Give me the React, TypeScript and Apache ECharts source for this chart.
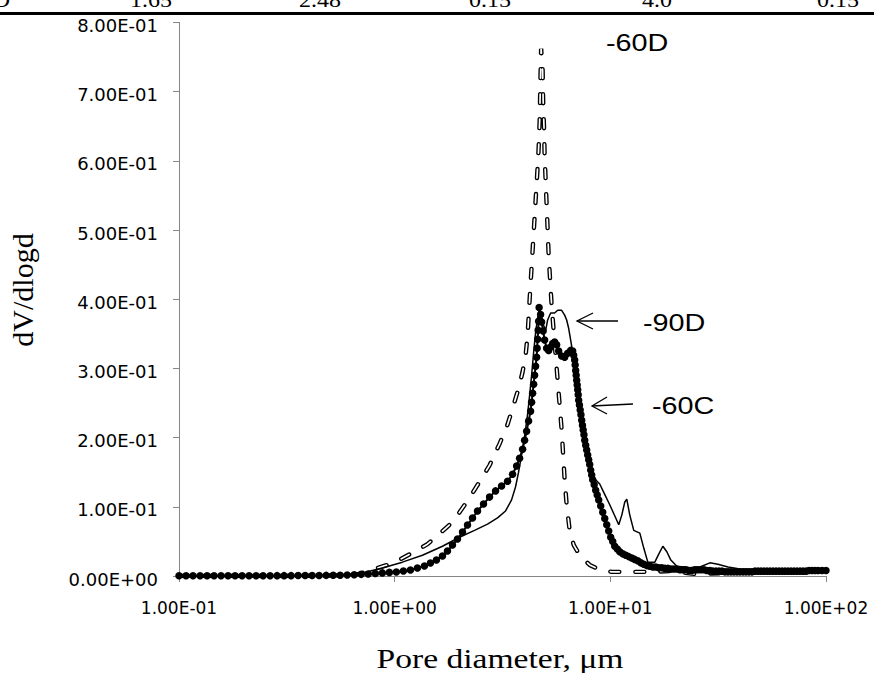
import React, { useEffect, useRef } from "react";
import * as echarts from "echarts";

// ---- data (pore diameter [µm], dV/dlogd) ----
const xTicks = [0.1, 1, 10, 100];
const yTicks = [0, 0.1, 0.2, 0.3, 0.4, 0.5, 0.6, 0.7, 0.8];

const series60D: number[][] = [
  [0.1, 0], [0.2114, 0], [0.3609, 0], [0.5535, 0.001], [0.6855, 0.003], [0.8049, 0.01], [0.9449, 0.017],
  [1.074, 0.025], [1.234, 0.035], [1.419, 0.046], [1.613, 0.061], [1.795, 0.074], [1.998, 0.092],
  [2.223, 0.113], [2.474, 0.136], [2.754, 0.16], [3.064, 0.191], [3.338, 0.219], [3.56, 0.247],
  [3.754, 0.271], [3.919, 0.295], [4.047, 0.319], [4.135, 0.348], [4.224, 0.399], [4.292, 0.435],
  [4.362, 0.471], [4.433, 0.507], [4.503, 0.543], [4.577, 0.579], [4.651, 0.618], [4.7, 0.656],
  [4.725, 0.692], [4.75, 0.728], [4.776, 0.762], [4.853, 0.731], [4.88, 0.687], [4.931, 0.644],
  [4.958, 0.608], [5.012, 0.572], [5.066, 0.536], [5.121, 0.5], [5.176, 0.464], [5.259, 0.427],
  [5.344, 0.391], [5.458, 0.355], [5.577, 0.319], [5.697, 0.283], [5.821, 0.247], [5.947, 0.211],
  [6.043, 0.175], [6.141, 0.139], [6.273, 0.103], [6.478, 0.066], [6.761, 0.045], [7.21, 0.03],
  [8.022, 0.016], [8.93, 0.009], [10.15, 0.006], [12.31, 0.006], [15.24, 0.006], [18.87, 0.007],
  [24.66, 0.003], [32.23, 0.004], [49.43, 0.006], [75.82, 0.007], [100, 0.007],
];

const series90D: number[][] = [
  [0.1, 0], [0.2114, 0], [0.3609, 0], [0.5535, 0.0015], [0.7003, 0.004], [0.8768, 0.0116], [1.086, 0.02],
  [1.345, 0.03], [1.666, 0.043], [1.998, 0.056], [2.346, 0.066], [2.695, 0.075], [2.999, 0.084],
  [3.267, 0.094], [3.484, 0.11], [3.636, 0.129], [3.754, 0.15], [3.877, 0.175], [4.004, 0.202],
  [4.135, 0.234], [4.224, 0.261], [4.315, 0.29], [4.409, 0.323], [4.503, 0.352], [4.601, 0.373],
  [4.7, 0.381], [4.801, 0.375], [4.907, 0.362], [5.012, 0.355], [5.121, 0.37], [5.287, 0.38],
  [5.518, 0.38], [5.697, 0.384], [5.947, 0.384], [6.141, 0.377], [6.273, 0.37], [6.409, 0.358],
  [6.548, 0.341], [6.69, 0.323], [6.907, 0.297], [7.134, 0.261], [7.367, 0.228], [7.607, 0.199],
  [7.852, 0.173], [8.109, 0.153], [8.374, 0.142], [8.93, 0.133], [9.419, 0.118], [9.936, 0.103],
  [10.48, 0.087], [10.94, 0.074], [11.3, 0.088], [11.67, 0.107], [11.92, 0.111], [12.31, 0.088],
  [12.84, 0.066], [13.7, 0.062], [14.3, 0.04], [14.92, 0.02], [16.08, 0.02], [16.79, 0.032],
  [17.52, 0.043], [18.28, 0.035], [19.08, 0.023], [20.34, 0.014], [23.38, 0.012], [26.02, 0.013],
  [28.95, 0.019], [31.54, 0.017], [35.1, 0.013], [39.91, 0.01], [49.43, 0.009], [68.09, 0.009], [100, 0.009],
];

const series60C: number[][] = [
  [0.1, 0.0003], [0.1078, 0.0003], [0.1161, 0.0003], [0.1252, 0.0003], [0.1349, 0.0003], [0.1454, 0.0003],
  [0.1567, 0.0003], [0.1688, 0.0003], [0.1819, 0.0003], [0.1961, 0.0003], [0.2113, 0.0004], [0.2277, 0.0004],
  [0.2454, 0.0004], [0.2645, 0.0004], [0.285, 0.0005], [0.3072, 0.0005], [0.331, 0.0005], [0.3568, 0.0006],
  [0.3845, 0.0006], [0.4143, 0.0007], [0.4465, 0.0008], [0.4812, 0.0009], [0.5186, 0.001], [0.5589, 0.0012],
  [0.6023, 0.0015], [0.6491, 0.0019], [0.6995, 0.0024], [0.7539, 0.003], [0.8137, 0.0037], [0.8768, 0.0045],
  [0.9449, 0.0052], [1.018, 0.0058], [1.098, 0.0072], [1.183, 0.0087], [1.275, 0.0116], [1.374, 0.0144],
  [1.465, 0.0188], [1.562, 0.0231], [1.666, 0.0289], [1.757, 0.0361], [1.854, 0.0448], [1.956, 0.0534],
  [2.063, 0.0635], [2.176, 0.0736], [2.296, 0.0838], [2.422, 0.0939], [2.582, 0.104], [2.754, 0.114],
  [2.936, 0.123], [3.131, 0.13], [3.338, 0.137], [3.521, 0.147], [3.676, 0.159], [3.795, 0.17],
  [3.919, 0.183], [4.004, 0.196], [4.091, 0.209], [4.178, 0.224], [4.269, 0.238], [4.315, 0.251],
  [4.362, 0.264], [4.409, 0.277], [4.456, 0.29], [4.503, 0.303], [4.553, 0.316], [4.577, 0.329],
  [4.601, 0.342], [4.626, 0.355], [4.651, 0.368], [4.675, 0.388], [4.75, 0.378], [4.801, 0.367],
  [4.88, 0.354], [4.958, 0.341], [5.066, 0.329], [5.176, 0.326], [5.287, 0.331], [5.403, 0.336],
  [5.518, 0.338], [5.638, 0.334], [5.76, 0.325], [5.947, 0.318], [6.141, 0.316], [6.341, 0.322],
  [6.548, 0.326], [6.69, 0.325], [6.762, 0.319], [6.834, 0.312], [6.87, 0.305], [6.907, 0.297],
  [6.944, 0.29], [6.982, 0.283], [7.02, 0.276], [7.058, 0.269], [7.096, 0.262], [7.134, 0.254],
  [7.192, 0.247], [7.25, 0.24], [7.308, 0.233], [7.367, 0.225], [7.426, 0.218], [7.485, 0.211],
  [7.546, 0.204], [7.607, 0.196], [7.688, 0.189], [7.77, 0.182], [7.853, 0.175], [7.937, 0.168],
  [8.023, 0.161], [8.109, 0.153], [8.196, 0.146], [8.284, 0.139], [8.417, 0.132], [8.553, 0.124],
  [8.692, 0.117], [8.834, 0.11], [9.025, 0.101], [9.22, 0.092], [9.42, 0.083], [9.623, 0.074],
  [9.829, 0.065], [10.04, 0.056], [10.26, 0.05], [10.48, 0.043], [10.77, 0.039], [11.06, 0.035],
  [11.42, 0.032], [11.79, 0.03], [12.17, 0.028], [12.57, 0.026], [12.98, 0.024], [13.41, 0.022],
  [13.85, 0.019], [14.3, 0.017], [14.76, 0.015], [15.24, 0.014], [15.74, 0.013], [16.25, 0.013],
  [16.78, 0.012], [17.33, 0.012], [17.9, 0.011], [18.48, 0.011], [19.08, 0.01], [19.7, 0.01],
  [20.34, 0.01], [21.01, 0.009], [21.69, 0.009], [22.4, 0.009], [23.13, 0.008], [23.88, 0.008],
  [24.66, 0.009], [25.47, 0.009], [26.3, 0.009], [27.16, 0.009], [28.04, 0.008], [28.95, 0.008],
  [29.89, 0.007], [30.87, 0.007], [31.88, 0.007], [32.92, 0.007], [33.99, 0.006], [35.1, 0.006],
  [36.25, 0.006], [37.43, 0.006], [38.65, 0.006], [39.91, 0.006], [41.21, 0.006], [42.56, 0.006],
  [43.95, 0.006], [45.38, 0.006], [46.85, 0.007], [48.37, 0.007], [49.95, 0.007], [51.58, 0.007],
  [53.26, 0.007], [55.0, 0.007], [56.8, 0.007], [58.65, 0.007], [60.56, 0.007], [62.54, 0.007],
  [64.58, 0.007], [66.69, 0.007], [68.86, 0.007], [71.1, 0.007], [73.42, 0.007], [75.82, 0.007],
  [78.3, 0.007], [80.85, 0.007], [83.48, 0.008], [86.2, 0.008], [89.0, 0.008], [91.9, 0.008],
  [95.87, 0.008], [100, 0.008],
];

const seriesNames = ["-60D", "-90D", "-60C"];
const tableRow = ["D", "1.65", "2.48", "0.15", "4.0", "0.15"];
const xTitle = "Pore diameter, μm";
const yTitle = "dV/dlogd";

function sci(v: number): string {
  if (v === 0) return "0.00E+00";
  const e = Math.floor(Math.log10(Math.abs(v)) + 1e-9);
  const m = v / Math.pow(10, e);
  const es = String(Math.abs(e)).padStart(2, "0");
  return m.toFixed(2) + "E" + (e < 0 ? "-" : "+") + es;
}

const tickFont = "DejaVu Sans";
const axisGray = "#868686";

export default function App() {
  const ref = useRef<HTMLDivElement>(null);

  useEffect(() => {
    if (!ref.current) return;
    const chart = echarts.init(ref.current, null, { renderer: "svg" });
    const dash = [9, 16];
    const tableX = [10, 151, 320, 490, 657, 838];

    const option: any = {
      animation: false,
      backgroundColor: "#ffffff",
      grid: { left: 179, right: 48, top: 22.4, bottom: 97, containLabel: false, outerBoundsMode: "none" },
      xAxis: {
        type: "log",
        logBase: 10,
        min: xTicks[0],
        max: xTicks[xTicks.length - 1],
        axisLine: { show: true, lineStyle: { color: axisGray, width: 1 } },
        axisTick: { show: true, inside: false, length: 6, lineStyle: { color: axisGray } },
        minorTick: { show: false },
        splitLine: { show: false },
        axisLabel: {
          margin: 23,
          color: "#000",
          fontFamily: tickFont,
          fontSize: 17,
          formatter: (v: number) => sci(v),
          showMinLabel: true,
          showMaxLabel: true,
        },
      },
      yAxis: {
        type: "value",
        min: yTicks[0],
        max: yTicks[yTicks.length - 1],
        interval: 0.1,
        axisLine: { show: true, lineStyle: { color: axisGray, width: 1 } },
        axisTick: { show: true, inside: false, length: 6, lineStyle: { color: axisGray } },
        splitLine: { show: false },
        axisLabel: {
          margin: 21,
          color: "#000",
          fontFamily: tickFont,
          fontSize: 18,
          formatter: (v: number) => "{v|" + sci(v) + "}",
          rich: {
            v: { fontFamily: tickFont, fontSize: 18, color: "#000", padding: [6, 0, 0, 0] },
          },
        },
      },
      series: [
        {
          name: seriesNames[0],
          type: "line",
          data: series60D,
          showSymbol: false,
          lineStyle: { color: "#000", width: 4.4, type: dash, cap: "round" },
          z: 2,
        },
        {
          name: seriesNames[0] + " inner",
          type: "line",
          data: series60D,
          showSymbol: false,
          lineStyle: { color: "#fff", width: 1.7, type: dash, cap: "round" },
          z: 2,
        },
        {
          name: seriesNames[1],
          type: "line",
          data: series90D,
          showSymbol: false,
          lineStyle: { color: "#000", width: 1.5 },
          z: 3,
        },
        {
          name: seriesNames[2],
          type: "line",
          data: series60C,
          showSymbol: true,
          symbol: "circle",
          symbolSize: 7.5,
          itemStyle: { color: "#000", borderWidth: 0 },
          lineStyle: { color: "#000", width: 2 },
          z: 4,
        },
      ],
      graphic: [
        { type: "rect", shape: { x: 0, y: 12, width: 874, height: 3 }, style: { fill: "#000" }, z: 10 },
        ...tableRow.map((t, i) => ({
          type: "text",
          x: tableX[i],
          y: 0.5,
          scaleX: 1.2,
          style: {
            text: t,
            font: '20px "Liberation Serif", "Times New Roman", serif',
            fill: "#000",
            align: i === 0 ? "right" : "center",
            verticalAlign: "middle",
          },
          z: 10,
        })),
        {
          type: "text",
          x: 22.5,
          y: 290,
          rotation: Math.PI / 2,
          style: {
            text: yTitle,
            font: '30px "Liberation Serif", "Times New Roman", serif',
            fill: "#000",
            align: "center",
            verticalAlign: "middle",
          },
          z: 10,
        },
        {
          type: "text",
          x: 500,
          y: 658.5,
          scaleX: 1.2,
          style: {
            text: xTitle,
            font: '28px "Liberation Serif", "Times New Roman", serif',
            fill: "#000",
            align: "center",
            verticalAlign: "middle",
          },
          z: 10,
        },
        {
          type: "text",
          x: 606,
          y: 43,
          scaleX: 1.2,
          style: { text: seriesNames[0], font: '24px "Liberation Sans", Arial, sans-serif', fill: "#000", align: "left", verticalAlign: "middle" },
          z: 10,
        },
        {
          type: "text",
          x: 643,
          y: 322.5,
          scaleX: 1.2,
          style: { text: seriesNames[1], font: '24px "Liberation Sans", Arial, sans-serif', fill: "#000", align: "left", verticalAlign: "middle" },
          z: 10,
        },
        {
          type: "text",
          x: 652,
          y: 406,
          scaleX: 1.2,
          style: { text: seriesNames[2], font: '24px "Liberation Sans", Arial, sans-serif', fill: "#000", align: "left", verticalAlign: "middle" },
          z: 10,
        },
        { type: "line", shape: { x1: 577, y1: 321, x2: 618, y2: 321 }, style: { stroke: "#000", lineWidth: 1.3 }, z: 10 },
        { type: "polyline", shape: { points: [[593, 313], [577, 321], [593, 329]] }, style: { stroke: "#000", fill: null, lineWidth: 1.3 }, z: 10 },
        { type: "line", shape: { x1: 592, y1: 406, x2: 633, y2: 404 }, style: { stroke: "#000", lineWidth: 1.3 }, z: 10 },
        { type: "polyline", shape: { points: [[607, 397], [592, 406], [607, 414]] }, style: { stroke: "#000", fill: null, lineWidth: 1.3 }, z: 10 },
      ],
    };

    chart.setOption(option);
    return () => chart.dispose();
  }, []);

  return (
    <div
      ref={ref}
      style={{ position: "fixed", left: 0, top: 0, width: 874, height: 673, background: "#fff" }}
    />
  );
}
